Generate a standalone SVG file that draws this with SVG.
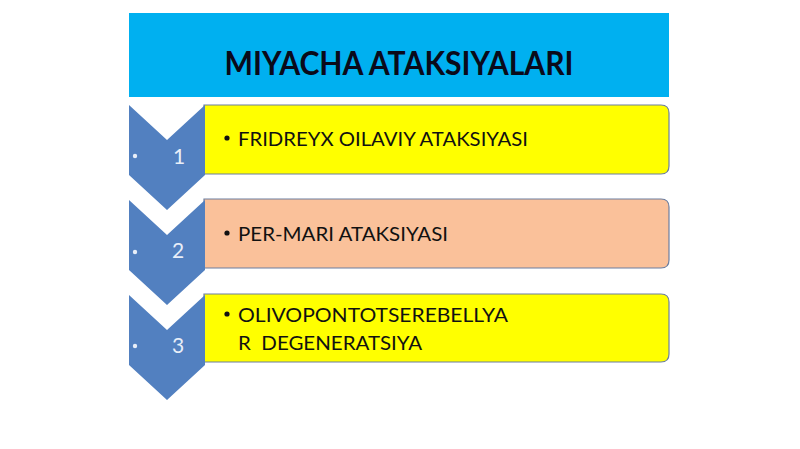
<svg xmlns="http://www.w3.org/2000/svg" width="800" height="449" viewBox="0 0 800 449">
<style>
.chev{fill:#5280c0}
.box{stroke:#6d7fa0;stroke-width:1.2}
.num{font-family:Lato,"Liberation Sans",sans-serif;font-size:21px;fill:#e8eef8;text-anchor:middle}
.dot{fill:#e8eef8}
.txt{font-family:Lato,"Liberation Sans",sans-serif;font-size:18.5px;fill:#111}
.title{font-family:Lato,"Liberation Sans",sans-serif;font-weight:bold;font-size:32px;fill:#0a0a1a;text-anchor:middle}
</style>
<rect width="800" height="449" fill="#ffffff"/>
<g id="header">
<rect x="129" y="13" width="540" height="84" fill="#00b0f0"/>
<text class="title" x="399" y="75" textLength="349" lengthAdjust="spacingAndGlyphs">MIYACHA ATAKSIYALARI</text>
</g>
<g id="item1">
<path class="box" d="M204,105 H661 Q669,105 669,113 V166 Q669,174 661,174 H204 Z" fill="#ffff00"/>
<polygon class="chev" points="129,105 167,140 205,105 205,175 167,210 129,175"/>
<circle class="dot" cx="135" cy="156" r="2.2"/>
<text class="num" x="179" y="164">1</text>
<circle cx="227" cy="138" r="2.6" fill="#111"/>
<text class="txt" x="238" y="146" textLength="290" lengthAdjust="spacingAndGlyphs">FRIDREYX OILAVIY ATAKSIYASI</text>
</g>
<g id="item2">
<path class="box" d="M204,199 H661 Q669,199 669,207 V260 Q669,268 661,268 H204 Z" fill="#fac19a"/>
<polygon class="chev" points="129,200 167,235 205,200 205,270 167,305 129,270"/>
<circle class="dot" cx="135" cy="252" r="2.2"/>
<text class="num" x="178" y="258">2</text>
<circle cx="227" cy="233" r="2.6" fill="#111"/>
<text class="txt" x="238" y="241" textLength="210" lengthAdjust="spacingAndGlyphs">PER-MARI ATAKSIYASI</text>
</g>
<g id="item3">
<path class="box" d="M204,294 H661 Q669,294 669,302 V354 Q669,362 661,362 H204 Z" fill="#ffff00"/>
<polygon class="chev" points="129,295 167,330 205,295 205,365 167,400 129,365"/>
<circle class="dot" cx="135" cy="346" r="2.2"/>
<text class="num" x="178" y="353">3</text>
<circle cx="227" cy="314" r="2.6" fill="#111"/>
<text class="txt" x="238" y="322" textLength="270" lengthAdjust="spacingAndGlyphs">OLIVOPONTOTSEREBELLYA</text>
<text class="txt" x="238" y="350" xml:space="preserve" style="white-space:pre" textLength="184" lengthAdjust="spacingAndGlyphs">R  DEGENERATSIYA</text>
</g>
</svg>
